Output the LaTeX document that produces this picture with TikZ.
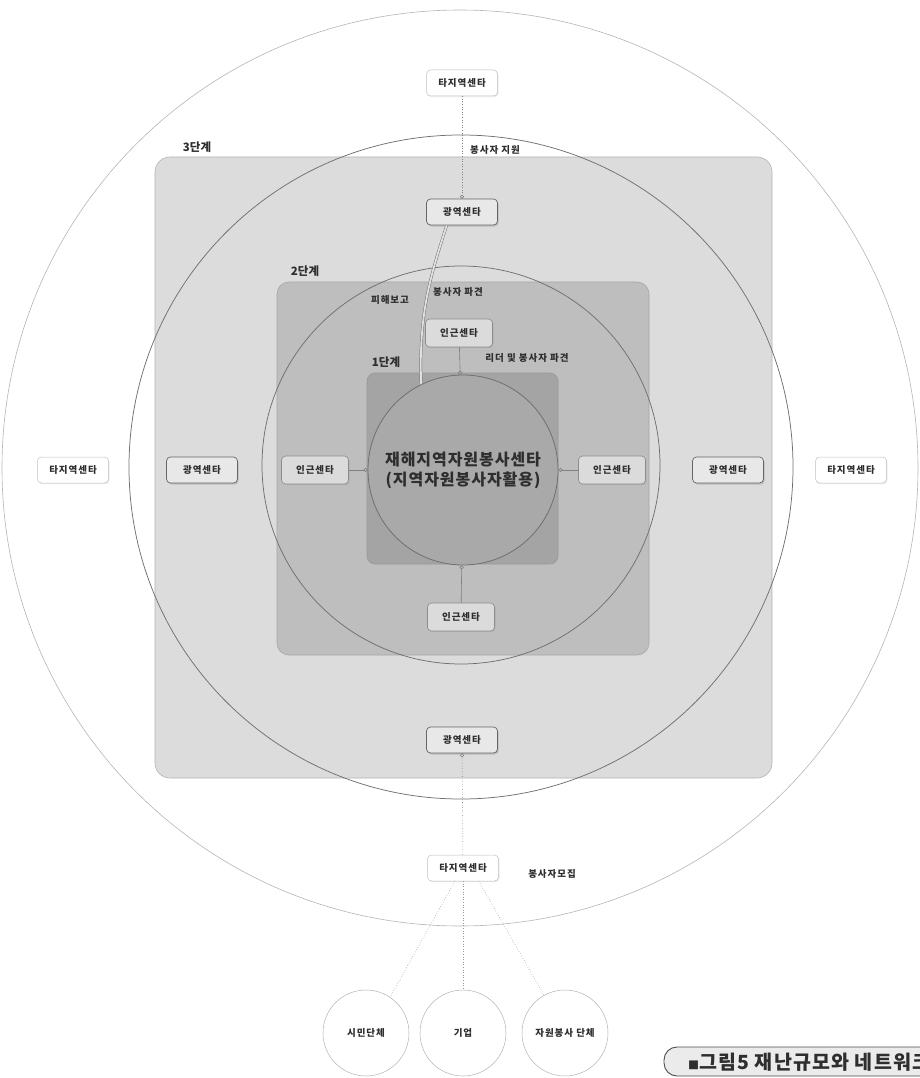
\documentclass[tikz,border=0pt]{standalone}
\usepackage{fontspec}
\setmainfont{Noto Sans CJK KR}
\newfontfamily\widekr[LetterSpace=10]{Noto Sans CJK KR}
\newfontfamily\titlekr[LetterSpace=6]{Noto Sans CJK KR}
\usetikzlibrary{arrows.meta,shadows}

\definecolor{stagethree}{HTML}{DCDCDC}
\definecolor{stagetwo}{HTML}{BEBEBE}
\definecolor{stageone}{HTML}{A4A4A4}
\definecolor{corefill}{HTML}{A9A9A9}
\definecolor{ringline}{HTML}{707070}
\definecolor{outerline}{HTML}{B4B4B4}
\definecolor{textgray}{HTML}{2E2E2E}
\definecolor{linkgray}{HTML}{808080}

\tikzset{
  centerbox/.style={rounded corners=4pt, minimum width=71pt, minimum height=26pt,
    inner sep=2pt, text=textgray, font=\widekr\fontsize{9.5}{10}\selectfont\bfseries},
  farbox/.style={centerbox, draw=black!25, fill=white, line width=0.5pt,
    drop shadow={opacity=0.15, shadow xshift=1pt, shadow yshift=-1.2pt}},
  widebox/.style={centerbox, draw=black!60, fill=black!9, line width=0.7pt,
    drop shadow={opacity=0.35, shadow xshift=1.2pt, shadow yshift=-1.5pt}},
  nearbox/.style={centerbox, draw=black!45, fill=black!14, line width=0.6pt,
    minimum width=67pt, minimum height=28pt,
    drop shadow={opacity=0.22, shadow xshift=1pt, shadow yshift=-1.2pt}},
  groupcircle/.style={circle, draw=black!30, fill=white, line width=0.5pt,
    minimum size=86pt, inner sep=0pt, text=textgray,
    font=\widekr\fontsize{9.5}{10}\selectfont\bfseries},
  stagelabel/.style={text=textgray, font=\fontsize{11.5}{12}\selectfont\bfseries},
  linklabel/.style={text=textgray, font=\widekr\fontsize{9.5}{10}\selectfont\bfseries},
  link/.style={draw=linkgray, line width=0.6pt},
  inward/.style={link, -{Circle[open, length=4pt, width=4pt]}},
}

\begin{document}
\begin{tikzpicture}[x=1pt, y=-1pt]
  \useasboundingbox (0,0) rectangle (920,1078);
  \clip (0,0) rectangle (920,1078);

  % outermost ring
  \draw[outerline, line width=0.6pt] (460,468) circle[radius=458pt];

  % stage 3
  \draw[draw=black!30, fill=stagethree, rounded corners=15pt, line width=0.6pt]
    (155,157) rectangle (772,778);
  \draw[ringline, line width=0.75pt] (461,467) circle[radius=332pt];
  \node[stagelabel] (s3) at (197,147) {3단계};

  % stage 2
  \draw[draw=black!35, fill=stagetwo, rounded corners=12pt, line width=0.6pt]
    (277,282) rectangle (649,655);
  \draw[ringline, line width=0.75pt] (461,465) circle[radius=199pt];
  \node[stagelabel] (s2) at (305,271) {2단계};

  % stage 1
  \draw[draw=black!40, fill=stageone, rounded corners=8pt, line width=0.6pt]
    (367,373) rectangle (558,564);
  \node[stagelabel] (s1) at (386,362) {1단계};

  % core centre
  \node[circle, draw=ringline, fill=corefill, line width=0.8pt,
        minimum size=190pt, inner sep=0pt, text=textgray, align=center,
        font=\titlekr\fontsize{16}{20}\selectfont\bfseries] (core) at (463,470)
        {재해지역자원봉사센타\\(지역자원봉사자활용)};

  % neighbouring centres
  \node[nearbox] (ntop)    at (459,333) {인근센타};
  \node[nearbox] (nleft)   at (315,470) {인근센타};
  \node[nearbox] (nright)  at (612,470) {인근센타};
  \node[nearbox] (nbottom) at (461,617) {인근센타};

  % regional centres
  \node[widebox] (gtop)    at (462,212) {광역센타};
  \node[widebox] (gleft)   at (202,470) {광역센타};
  \node[widebox] (gright)  at (728,470) {광역센타};
  \node[widebox] (gbottom) at (462,740) {광역센타};

  % centres of other regions
  \node[farbox] (ftop)    at (462,83)  {타지역센타};
  \node[farbox] (fleft)   at (73,470)  {타지역센타};
  \node[farbox] (fright)  at (851,470) {타지역센타};
  \node[farbox] (fbottom) at (463,868) {타지역센타};

  % outside groups
  \node[groupcircle] (citizen) at (366,1033) {시민단체};
  \node[groupcircle] (company) at (463,1033) {기업};
  \node[groupcircle] (volgroup) at (565,1033) {자원봉사 단체};

  % connectors
  \draw[inward, dotted] (ftop) -- (gtop);
  \draw[inward, dotted] (fbottom) -- (gbottom);
  \draw[inward] (ntop) -- (core);
  \draw[inward] (nleft) -- (core);
  \draw[inward] (nright) -- (core);
  \draw[inward] (nbottom) -- (core);
  \draw[draw=ringline, line width=0.45pt, double=black!12, double distance=1.8pt]
    (core.116) .. controls +(-3,-75) and +(-14,45) .. (gtop.-139);

  \draw[link, dotted, draw=black!40] (fbottom.-122) -- (citizen.56);
  \draw[link, dotted, draw=black!40] (fbottom.south) -- (company.north);
  \draw[link, dotted, draw=black!40] (fbottom.-40) -- (volgroup.119);

  % link labels
  \node[linklabel] (lsupport) at (495,150) {봉사자 지원};
  \node[linklabel] (lreport)  at (390,300) {피해보고};
  \node[linklabel] (ldispatch) at (458,292) {봉사자 파견};
  \node[linklabel] (lleader)  at (527,358) {리더 및 봉사자 파견};
  \node[linklabel] (lrecruit) at (552,874) {봉사자모집};

  % figure caption
  \draw[draw=black!70, fill=black!8, line width=0.9pt, rounded corners=13pt]
    (664,1047) rectangle (960,1076);
  \node[anchor=west, text=textgray, inner sep=0pt,
        font=\titlekr\fontsize{19.5}{20}\selectfont\bfseries] (caption) at (688,1062)
        {{\fontsize{11}{12}\selectfont ■}그림5  재난규모와 네트워크};
\end{tikzpicture}
\end{document}
